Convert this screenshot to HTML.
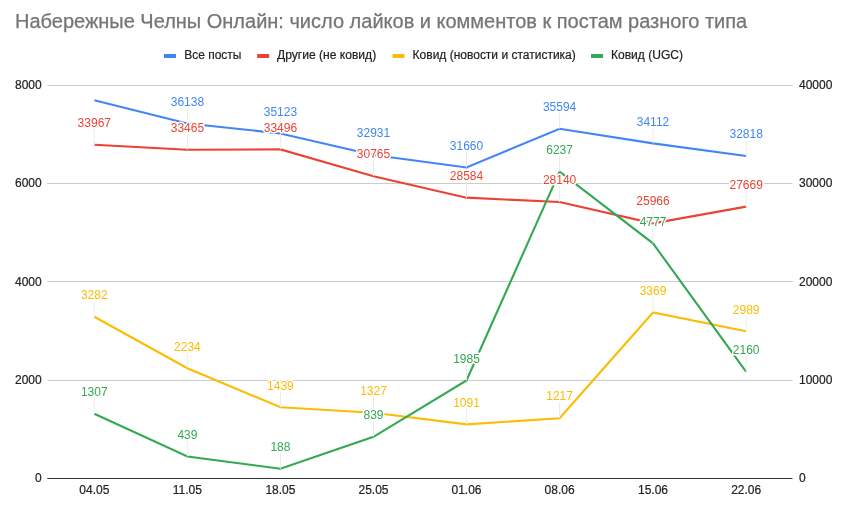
<!DOCTYPE html>
<html lang="ru"><head><meta charset="utf-8"><title>Набережные Челны Онлайн</title>
<style>html,body{margin:0;padding:0;background:#fff}body{width:850px;height:512px;overflow:hidden}svg{display:block}text{font-family:"Liberation Sans",sans-serif}</style></head><body>
<svg width="850" height="512" viewBox="0 0 850 512">
<rect width="850" height="512" fill="#fff"/>
<text x="15" y="27.6" font-size="20" fill="#757575" stroke="#757575" stroke-width="0.25" textLength="732.2" lengthAdjust="spacingAndGlyphs">Набережные Челны Онлайн: число лайков и комментов к постам разного типа</text>
<g font-size="12" fill="#222" stroke="#222" stroke-width="0.2">
<rect x="164" y="54" width="12" height="4" fill="#4285f4" stroke="none"/><text x="184.2" y="58.7" textLength="57.3" lengthAdjust="spacingAndGlyphs">Все посты</text>
<rect x="257.2" y="54" width="12" height="4" fill="#ea4335" stroke="none"/><text x="277" y="58.7" textLength="99.2" lengthAdjust="spacingAndGlyphs">Другие (не ковид)</text>
<rect x="392.5" y="54" width="12" height="4" fill="#fbbc04" stroke="none"/><text x="412.6" y="58.7" textLength="163.2" lengthAdjust="spacingAndGlyphs">Ковид (новости и статистика)</text>
<rect x="591" y="54" width="12" height="4" fill="#34a853" stroke="none"/><text x="611" y="58.7" textLength="72" lengthAdjust="spacingAndGlyphs">Ковид (UGC)</text>
</g>
<g stroke="#ccc" stroke-width="1">
<line x1="47.3" x2="792.5" y1="380.5" y2="380.5"/>
<line x1="47.3" x2="792.5" y1="281.5" y2="281.5"/>
<line x1="47.3" x2="792.5" y1="183.5" y2="183.5"/>
<line x1="47.3" x2="792.5" y1="85.5" y2="85.5"/>
</g>
<line x1="47.3" x2="792.5" y1="478.5" y2="478.5" stroke="#333" stroke-width="1"/>
<g font-size="12" fill="#222" stroke="#222" stroke-width="0.2">
<text x="41.7" y="482.0" text-anchor="end">0</text>
<text x="41.7" y="384.0" text-anchor="end">2000</text>
<text x="41.7" y="285.9" text-anchor="end">4000</text>
<text x="41.7" y="187.0" text-anchor="end">6000</text>
<text x="41.7" y="89.0" text-anchor="end">8000</text>
<text x="799" y="482.0">0</text>
<text x="799" y="384.0">10000</text>
<text x="799" y="285.9">20000</text>
<text x="799" y="187.0">30000</text>
<text x="799" y="89.0">40000</text>
<text x="94.30" y="493.8" text-anchor="middle">04.05</text>
<text x="187.40" y="493.8" text-anchor="middle">11.05</text>
<text x="280.45" y="493.8" text-anchor="middle">18.05</text>
<text x="373.50" y="493.8" text-anchor="middle">25.05</text>
<text x="466.50" y="493.8" text-anchor="middle">01.06</text>
<text x="559.60" y="493.8" text-anchor="middle">08.06</text>
<text x="653.00" y="493.8" text-anchor="middle">15.06</text>
<text x="746.20" y="493.8" text-anchor="middle">22.06</text>
</g>
<g fill="none" stroke-width="2.1">
<path d="M94.30,100.24 L187.40,123.44 L280.45,133.42 L373.50,154.95 L466.50,167.44 L559.60,128.79 L653.00,143.35 L746.20,156.06" stroke="#4285f4"/>
<path d="M94.30,144.77 L187.40,149.71 L280.45,149.40 L373.50,176.23 L466.50,197.66 L559.60,202.02 L653.00,223.38 L746.20,206.65" stroke="#ea4335"/>
<path d="M94.30,316.77 L187.40,368.25 L280.45,407.31 L373.50,412.81 L466.50,424.40 L559.60,418.21 L653.00,312.50 L746.20,331.17" stroke="#fbbc04"/>
<path d="M94.30,413.79 L187.40,456.43 L280.45,468.76 L373.50,436.78 L466.50,380.49 L559.60,171.61 L653.00,243.33 L746.20,371.89" stroke="#34a853"/>
</g>
<g font-size="12" text-anchor="middle" stroke-linejoin="round">
<line x1="187.4" x2="187.4" y1="108.0" y2="123.4" stroke="#ebebeb" stroke-width="1"/>
<text x="187.40" y="105.5" fill="#4285f4" stroke="#fff" stroke-width="3" paint-order="stroke">36138</text>
<line x1="280.45" x2="280.45" y1="118.0" y2="133.4" stroke="#ebebeb" stroke-width="1"/>
<text x="280.45" y="115.5" fill="#4285f4" stroke="#fff" stroke-width="3" paint-order="stroke">35123</text>
<line x1="373.5" x2="373.5" y1="139.0" y2="155.0" stroke="#ebebeb" stroke-width="1"/>
<text x="373.50" y="136.5" fill="#4285f4" stroke="#fff" stroke-width="3" paint-order="stroke">32931</text>
<line x1="466.5" x2="466.5" y1="152.0" y2="167.4" stroke="#ebebeb" stroke-width="1"/>
<text x="466.50" y="149.5" fill="#4285f4" stroke="#fff" stroke-width="3" paint-order="stroke">31660</text>
<line x1="559.6" x2="559.6" y1="113.0" y2="128.8" stroke="#ebebeb" stroke-width="1"/>
<text x="559.60" y="110.5" fill="#4285f4" stroke="#fff" stroke-width="3" paint-order="stroke">35594</text>
<line x1="653.0" x2="653.0" y1="128.0" y2="143.3" stroke="#ebebeb" stroke-width="1"/>
<text x="653.00" y="125.5" fill="#4285f4" stroke="#fff" stroke-width="3" paint-order="stroke">34112</text>
<line x1="746.2" x2="746.2" y1="140.0" y2="156.1" stroke="#ebebeb" stroke-width="1"/>
<text x="746.20" y="137.5" fill="#4285f4" stroke="#fff" stroke-width="3" paint-order="stroke">32818</text>
<line x1="94.3" x2="94.3" y1="129.0" y2="144.8" stroke="#ebebeb" stroke-width="1"/>
<text x="94.30" y="126.5" fill="#ea4335" stroke="#fff" stroke-width="3" paint-order="stroke">33967</text>
<line x1="187.4" x2="187.4" y1="134.0" y2="149.7" stroke="#ebebeb" stroke-width="1"/>
<text x="187.40" y="131.5" fill="#ea4335" stroke="#fff" stroke-width="3" paint-order="stroke">33465</text>
<line x1="280.45" x2="280.45" y1="134.0" y2="149.4" stroke="#ebebeb" stroke-width="1"/>
<text x="280.45" y="131.5" fill="#ea4335" stroke="#fff" stroke-width="3" paint-order="stroke">33496</text>
<line x1="373.5" x2="373.5" y1="160.0" y2="176.2" stroke="#ebebeb" stroke-width="1"/>
<text x="373.50" y="157.5" fill="#ea4335" stroke="#fff" stroke-width="3" paint-order="stroke">30765</text>
<line x1="466.5" x2="466.5" y1="182.0" y2="197.7" stroke="#ebebeb" stroke-width="1"/>
<text x="466.50" y="179.5" fill="#ea4335" stroke="#fff" stroke-width="3" paint-order="stroke">28584</text>
<line x1="559.6" x2="559.6" y1="186.0" y2="202.0" stroke="#ebebeb" stroke-width="1"/>
<text x="559.60" y="183.5" fill="#ea4335" stroke="#fff" stroke-width="3" paint-order="stroke">28140</text>
<line x1="653.0" x2="653.0" y1="207.0" y2="223.4" stroke="#ebebeb" stroke-width="1"/>
<text x="653.00" y="204.5" fill="#ea4335" stroke="#fff" stroke-width="3" paint-order="stroke">25966</text>
<line x1="746.2" x2="746.2" y1="191.0" y2="206.7" stroke="#ebebeb" stroke-width="1"/>
<text x="746.20" y="188.5" fill="#ea4335" stroke="#fff" stroke-width="3" paint-order="stroke">27669</text>
<line x1="94.3" x2="94.3" y1="301.0" y2="316.8" stroke="#ebebeb" stroke-width="1"/>
<text x="94.30" y="298.5" fill="#fbbc04" stroke="#fff" stroke-width="3" paint-order="stroke">3282</text>
<line x1="187.4" x2="187.4" y1="353.0" y2="368.3" stroke="#ebebeb" stroke-width="1"/>
<text x="187.40" y="350.5" fill="#fbbc04" stroke="#fff" stroke-width="3" paint-order="stroke">2234</text>
<line x1="280.45" x2="280.45" y1="392.0" y2="407.3" stroke="#ebebeb" stroke-width="1"/>
<text x="280.45" y="389.5" fill="#fbbc04" stroke="#fff" stroke-width="3" paint-order="stroke">1439</text>
<line x1="373.5" x2="373.5" y1="397.0" y2="412.8" stroke="#ebebeb" stroke-width="1"/>
<text x="373.50" y="394.5" fill="#fbbc04" stroke="#fff" stroke-width="3" paint-order="stroke">1327</text>
<line x1="466.5" x2="466.5" y1="409.0" y2="424.4" stroke="#ebebeb" stroke-width="1"/>
<text x="466.50" y="406.5" fill="#fbbc04" stroke="#fff" stroke-width="3" paint-order="stroke">1091</text>
<line x1="559.6" x2="559.6" y1="402.0" y2="418.2" stroke="#ebebeb" stroke-width="1"/>
<text x="559.60" y="399.5" fill="#fbbc04" stroke="#fff" stroke-width="3" paint-order="stroke">1217</text>
<line x1="653.0" x2="653.0" y1="297.0" y2="312.5" stroke="#ebebeb" stroke-width="1"/>
<text x="653.00" y="294.5" fill="#fbbc04" stroke="#fff" stroke-width="3" paint-order="stroke">3369</text>
<line x1="746.2" x2="746.2" y1="316.0" y2="331.2" stroke="#ebebeb" stroke-width="1"/>
<text x="746.20" y="313.5" fill="#fbbc04" stroke="#fff" stroke-width="3" paint-order="stroke">2989</text>
<line x1="94.3" x2="94.3" y1="398.0" y2="413.8" stroke="#ebebeb" stroke-width="1"/>
<text x="94.30" y="395.5" fill="#34a853" stroke="#fff" stroke-width="3" paint-order="stroke">1307</text>
<line x1="187.4" x2="187.4" y1="441.0" y2="456.4" stroke="#ebebeb" stroke-width="1"/>
<text x="187.40" y="438.5" fill="#34a853" stroke="#fff" stroke-width="3" paint-order="stroke">439</text>
<line x1="280.45" x2="280.45" y1="453.0" y2="468.8" stroke="#ebebeb" stroke-width="1"/>
<text x="280.45" y="450.5" fill="#34a853" stroke="#fff" stroke-width="3" paint-order="stroke">188</text>
<line x1="373.5" x2="373.5" y1="421.0" y2="436.8" stroke="#ebebeb" stroke-width="1"/>
<text x="373.50" y="418.5" fill="#34a853" stroke="#fff" stroke-width="3" paint-order="stroke">839</text>
<line x1="466.5" x2="466.5" y1="365.0" y2="380.5" stroke="#ebebeb" stroke-width="1"/>
<text x="466.50" y="362.5" fill="#34a853" stroke="#fff" stroke-width="3" paint-order="stroke">1985</text>
<line x1="559.6" x2="559.6" y1="156.0" y2="171.6" stroke="#ebebeb" stroke-width="1"/>
<text x="559.60" y="153.5" fill="#34a853" stroke="#fff" stroke-width="3" paint-order="stroke">6237</text>
<line x1="653.0" x2="653.0" y1="228.0" y2="243.3" stroke="#ebebeb" stroke-width="1"/>
<text x="653.00" y="225.5" fill="#34a853" stroke="#fff" stroke-width="3" paint-order="stroke">4777</text>
<line x1="746.2" x2="746.2" y1="356.0" y2="371.9" stroke="#ebebeb" stroke-width="1"/>
<text x="746.20" y="353.5" fill="#34a853" stroke="#fff" stroke-width="3" paint-order="stroke">2160</text>
</g>
</svg></body></html>
